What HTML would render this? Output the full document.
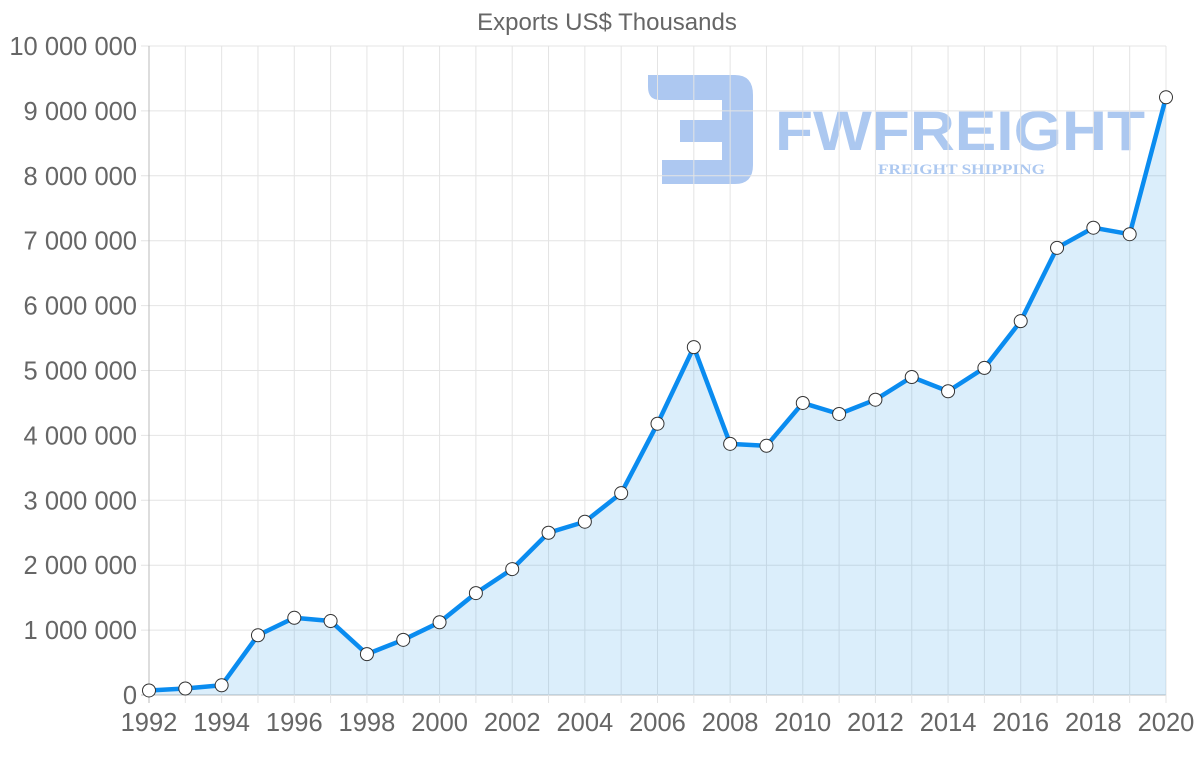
<!DOCTYPE html>
<html><head><meta charset="utf-8"><style>
body{margin:0;background:#fff;}
svg{display:block;font-family:"Liberation Sans",Arial,sans-serif;}
</style></head><body>
<svg id="chart" width="1200" height="763">
<text x="607" y="30" text-anchor="middle" font-size="24" fill="#666">Exports US$ Thousands</text>
<g opacity="0.45">
<path d="M648,75 H735 Q753,75 753,95 V165 Q753,184 735,184 H662 V160 H722 V142 H680 V120 H722 V100 H660 Q648,100 648,87 Z" fill="#4a86e0"/>
<text x="775" y="150" font-size="56" font-weight="bold" fill="#4a86e0" textLength="370" lengthAdjust="spacingAndGlyphs">FWFREIGHT</text>
<text x="878" y="174" font-size="15" font-weight="bold" fill="#4a86e0" font-family="Liberation Serif,serif" textLength="167" lengthAdjust="spacingAndGlyphs">FREIGHT SHIPPING</text>
</g>
<g id="grid"></g><g id="plot"></g><g id="axes"></g>
</svg>
<script>
const years=[1992,1993,1994,1995,1996,1997,1998,1999,2000,2001,2002,2003,2004,2005,2006,2007,2008,2009,2010,2011,2012,2013,2014,2015,2016,2017,2018,2019,2020];
const exportsVals=[0.07,0.1,0.15,0.92,1.19,1.14,0.63,0.85,1.12,1.57,1.94,2.5,2.67,3.11,4.18,5.36,3.87,3.84,4.5,4.33,4.55,4.9,4.68,5.04,5.76,6.89,7.2,7.1,9.21];
const yTicks=[0,1,2,3,4,5,6,7,8,9,10];
const yTickLabels=["0","1 000 000","2 000 000","3 000 000","4 000 000","5 000 000","6 000 000","7 000 000","8 000 000","9 000 000","10 000 000"];
const L=149,R=1166,T=46,B=695;
const xs=y=>L+(y-years[0])/(years[years.length-1]-years[0])*(R-L);
const ys=v=>B-v/10*(B-T);
const NS="http://www.w3.org/2000/svg";
function mk(p,t,a){const e=document.createElementNS(NS,t);for(const k in a)e.setAttribute(k,a[k]);p.appendChild(e);return e;}
const grid=document.getElementById('grid'),plot=document.getElementById('plot'),axes=document.getElementById('axes');
yTicks.forEach((v,i)=>{
 const g=mk(grid,'line',{x1:L-8,x2:R,y1:ys(v),y2:ys(v),stroke:i==0?'#bbb':'#e4e4e4'});
 
 
 const t=mk(axes,'text',{x:L-12,y:ys(v)+9,'text-anchor':'end','font-size':'25.5',fill:'#666'});
 t.textContent=yTickLabels[i];
 
 
});
years.forEach((y,i)=>{
 const g=mk(grid,'line',{x1:xs(y),x2:xs(y),y1:T,y2:B+8,stroke:i==0?'#bbb':'#e4e4e4'});
 
 
 if(i%2==0){
  const t=mk(axes,'text',{x:xs(y),y:731,'text-anchor':'middle','font-size':'25.5',fill:'#666'});
  t.textContent=y;
  
  
 }
});
let d=years.map((y,i)=>(i?'L':'M')+xs(y)+','+ys(exportsVals[i])).join(' ');
const area=mk(plot,'path',{d:d+` L${xs(years[years.length-1])},${B} L${L},${B} Z`,fill:'rgba(54,162,235,0.18)'});


const line=mk(plot,'path',{d:d,fill:'none',stroke:'#0a8cf0','stroke-width':'4.5','stroke-linejoin':'round'});


years.forEach((y,i)=>{
 const c=mk(plot,'circle',{cx:xs(y),cy:ys(exportsVals[i]),r:6.5,fill:'#fff',stroke:'#333','stroke-width':'1'});
 
 
});
</script>
</body></html>
